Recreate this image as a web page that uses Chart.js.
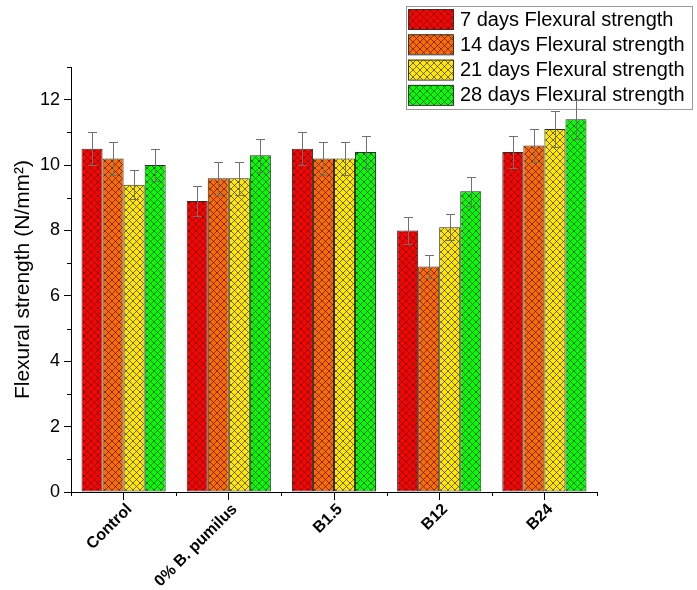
<!DOCTYPE html>
<html>
<head>
<meta charset="utf-8">
<script src="https://cdn.jsdelivr.net/npm/chart.js@4"></script>
<style>
  body { margin: 0; background: #fff; }
</style>
</head>
<body>
<canvas id="chart" width="697" height="590"></canvas>
<script>
const categories = ["Control", "0% B. pumilus", "B1.5", "B12", "B24"]
const seriesLabels = [
  "7 days Flexural strength",
  "14 days Flexural strength",
  "21 days Flexural strength",
  "28 days Flexural strength"
]
const day7 = [10.5, 8.9, 10.5, 8.0, 10.4]
const day14 = [10.2, 9.6, 10.2, 6.9, 10.6]
const day21 = [9.4, 9.6, 10.2, 8.1, 11.1]
const day28 = [10.0, 10.3, 10.4, 9.2, 11.4]
const err7 = [0.5, 0.45, 0.5, 0.4, 0.5]
const err14 = [0.5, 0.5, 0.5, 0.35, 0.5]
const err21 = [0.45, 0.5, 0.5, 0.4, 0.55]
const err28 = [0.5, 0.5, 0.5, 0.45, 0.6]
const yTicks = [0, 2, 4, 6, 8, 10, 12]
const yMinorTicks = [1, 3, 5, 7, 9, 11, 13]

const colors = ["#ff0000", "#ff6a00", "#ffe800", "#00ff00"]
const values = [day7, day14, day21, day28]
const errors = [err7, err14, err21, err28]

// crosshatch fill like the origin plot
function hatch(color) {
  const s = 7
  const c = document.createElement("canvas")
  c.width = s
  c.height = s
  const g = c.getContext("2d")
  g.fillStyle = color
  g.fillRect(0, 0, s, s)
  g.strokeStyle = "rgba(40,20,0,0.8)"
  g.lineWidth = 0.8
  g.beginPath()
  for (const o of [-s, 0, s]) {
    g.moveTo(o, 0); g.lineTo(o + s, s)
    g.moveTo(o + s, 0); g.lineTo(o, s)
  }
  g.stroke()
  return g.createPattern(c, "repeat")
}

const patterns = colors.map(hatch)

const extras = {
  id: "extras",
  afterDatasetsDraw(chart) {
    const ctx = chart.ctx
    const x = chart.scales.x
    const y = chart.scales.y
    ctx.save()

    // minor ticks
    ctx.strokeStyle = "#000"
    ctx.lineWidth = 1
    ctx.beginPath()
    yMinorTicks.forEach(v => {
      const py = Math.round(y.getPixelForValue(v)) + 0.5
      ctx.moveTo(x.left - 4, py); ctx.lineTo(x.left, py)
    })
    for (let i = 0; i <= categories.length; i++) {
      const px = Math.round(x.left + (x.right - x.left) * i / categories.length) + 0.5
      ctx.moveTo(px, y.bottom); ctx.lineTo(px, y.bottom + 4)
    }
    ctx.stroke()

    // legend box
    const lx = 406, ly = 6, lw = 286, lh = 103
    ctx.fillStyle = "#fff"
    ctx.fillRect(lx, ly, lw, lh)
    ctx.strokeStyle = "#9a9a9a"
    ctx.strokeRect(lx + 0.5, ly + 0.5, lw, lh)
    ctx.font = "20px 'Liberation Sans', Arial, sans-serif"
    ctx.textBaseline = "middle"
    seriesLabels.forEach((label, i) => {
      const sy = 9 + i * 25.3
      ctx.fillStyle = patterns[i]
      ctx.fillRect(408, sy, 45, 20)
      ctx.strokeStyle = "#333"
      ctx.strokeRect(408.5, sy + 0.5, 45, 20)
      ctx.fillStyle = "#000"
      ctx.fillText(label, 460, sy + 11)
    })

    // error bars
    ctx.strokeStyle = "#707070"
    ctx.lineWidth = 1
    chart.data.datasets.forEach((ds, di) => {
      const meta = chart.getDatasetMeta(di)
      meta.data.forEach((bar, i) => {
        const v = values[di][i]
        const e = errors[di][i]
        const px = Math.round(bar.x) + 0.5
        const top = Math.round(y.getPixelForValue(v + e)) + 0.5
        const bot = Math.round(y.getPixelForValue(v - e)) + 0.5
        ctx.beginPath()
        ctx.moveTo(px, top); ctx.lineTo(px, bot)
        ctx.moveTo(px - 4.5, top); ctx.lineTo(px + 4.5, top)
        ctx.moveTo(px - 4.5, bot); ctx.lineTo(px + 4.5, bot)
        ctx.stroke()
      })
    })
    ctx.restore()
  }
}

new Chart(document.getElementById("chart"), {
  type: "bar",
  data: {
    labels: categories,
    datasets: values.map((vals, i) => ({
      label: seriesLabels[i],
      data: vals,
      backgroundColor: patterns[i],
      borderColor: "#2a2a2a",
      borderWidth: 1,
      borderSkipped: false,
      categoryPercentage: 0.8,
      barPercentage: 1.0
    }))
  },
  options: {
    responsive: false,
    animation: false,
    layout: { padding: { top: 67, right: 100, left: 0, bottom: 0 } },
    plugins: {
      legend: { display: false },
      tooltip: { enabled: false }
    },
    scales: {
      x: {
        offset: true,
        grid: { display: true, drawOnChartArea: false, offset: false, tickLength: 8, color: "#000" },
        border: { color: "#000", width: 1 },
        ticks: {
          color: "#000",
          maxRotation: 45,
          minRotation: 45,
          padding: 0,
          labelOffset: 6,
          font: { family: "'Liberation Sans', Arial, sans-serif", size: 16, weight: "bold" }
        },
        afterFit(scale) { scale.height = 98 }
      },
      y: {
        min: 0,
        max: 13,
        afterBuildTicks(scale) { scale.ticks = yTicks.map(v => ({ value: v })) },
        grid: { display: true, drawOnChartArea: false, tickLength: 7, color: "#000" },
        border: { color: "#000", width: 1 },
        ticks: {
          color: "#000",
          padding: 4,
          font: { family: "'Liberation Sans', Arial, sans-serif", size: 18 }
        },
        title: {
          display: true,
          text: "Flexural strength (N/mm²)",
          color: "#000",
          padding: { top: 11, bottom: 0 },
          font: { family: "'Liberation Sans', Arial, sans-serif", size: 21 }
        },
        afterFit(scale) { scale.width = 71 }
      }
    }
  },
  plugins: [extras]
})
</script>
</body>
</html>
